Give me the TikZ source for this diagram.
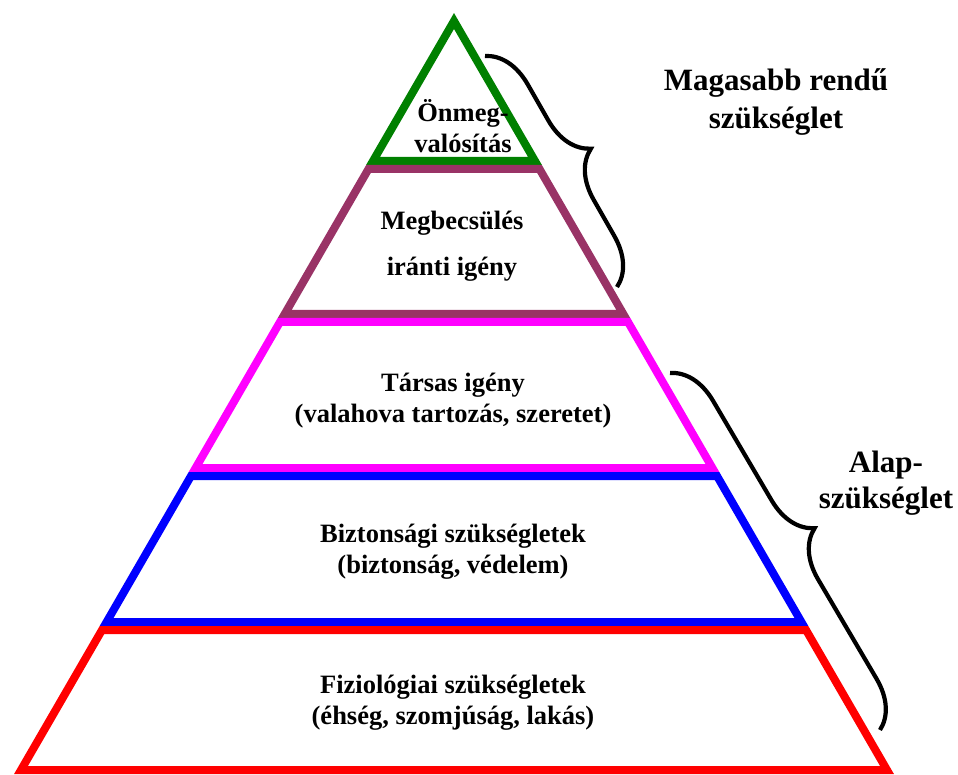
\documentclass[tikz,border=0pt]{standalone}
\usepackage{fontspec}
\setmainfont{Liberation Serif}
\usepackage{xcolor}
\usepackage{tikz}
\usetikzlibrary{decorations.pathreplacing}

\definecolor{selfgreen}{RGB}{0,128,0}
\definecolor{esteemplum}{RGB}{153,51,102}
\definecolor{socialpink}{RGB}{255,0,255}
\definecolor{safeblue}{RGB}{0,0,255}
\definecolor{bodyred}{RGB}{255,0,0}

\begin{document}
\begin{tikzpicture}[
    x=1pt, y=-1pt,
    level/.style={line width=8pt, line join=miter},
    lbl/.style={align=center, anchor=base, font=\fontsize{26.5}{31}\selectfont\bfseries},
    side/.style={align=center, anchor=base, font=\fontsize{31}{38}\selectfont\bfseries},
    brace/.style={decorate, decoration={brace, amplitude=46pt}, line width=4.2pt}
]
\useasboundingbox (0,0) rectangle (958,775);

% pyramid, top to bottom
\draw[level, selfgreen] (454,21) -- (535,161) -- (373,161) -- cycle;
\draw[level, esteemplum] (368.5,169) -- (539.5,169) -- (623.3,314) -- (284.7,314) -- cycle;
\draw[level, socialpink] (280,322) -- (628,322) -- (712.4,468) -- (195.6,468) -- cycle;
\draw[level, safeblue] (191,476) -- (717,476) -- (801.4,622) -- (106.6,622) -- cycle;
\draw[level, bodyred] (102,630) -- (806,630) -- (887,770) -- (21,770) -- cycle;

% labels (anchored at the baseline of the last line)
\node[lbl] (self) at (463,153) {Önmeg-\\valósítás};
\node[lbl] (esteem) at (452,276) {Megbecsülés\\[15pt]iránti igény};
\node[lbl] (social) at (453,422) {Társas igény\\(valahova tartozás, szeretet)};
\node[lbl] (safety) at (453,573) {Biztonsági szükségletek\\(biztonság, védelem)};
\node[lbl] (body) at (453,724) {Fiziológiai szükségletek\\(éhség, szomjúság, lakás)};

% braces and their labels
\coordinate (hi-a) at (485,56);
\coordinate (hi-b) at (617,287);
\coordinate (lo-a) at (670,373);
\coordinate (lo-b) at (880,730);
\draw[brace] (hi-a) -- (hi-b);
\draw[brace] (lo-a) -- (lo-b);

\node[side] (higher) at (776,129) {Magasabb rendű\\szükséglet};
\node[side, font=\fontsize{31}{36}\selectfont\bfseries] (basic) at (886,508) {Alap-\\szükséglet};
\end{tikzpicture}
\end{document}
